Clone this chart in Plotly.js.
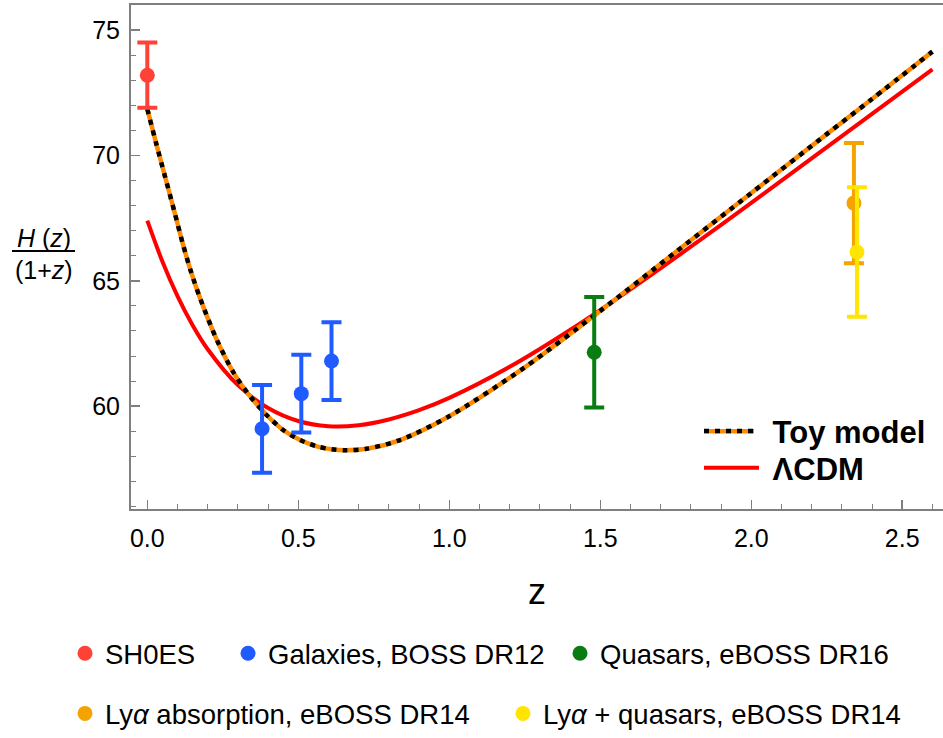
<!DOCTYPE html>
<html>
<head>
<meta charset="utf-8">
<script src="https://cdn.plot.ly/plotly-3.0.1.min.js"></script>
<style>html,body{margin:0;padding:0;background:#fff;}#chart{width:943px;height:738px;}</style>
</head>
<body>
<div id="chart"></div>
<script>
// ---- Data ----
const zToy = [0, 0.03, 0.06, 0.09, 0.117, 0.145, 0.175, 0.23, 0.285, 0.34, 0.395, 0.45, 0.506, 0.561, 0.61, 0.655, 0.726, 0.837, 1.0, 1.25, 1.5, 1.75, 2.0, 2.25, 2.4, 2.6];
const hToy = [71.85, 70.45, 69.1, 67.75, 66.5, 65.35, 64.3, 62.65, 61.35, 60.4, 59.65, 59.05, 58.65, 58.4, 58.28, 58.24, 58.3, 58.65, 59.6, 61.55, 63.8, 66.15, 68.5, 70.85, 72.25, 74.14];

const zLCDM = [0, 0.05, 0.1, 0.15, 0.2, 0.3, 0.4, 0.5, 0.6, 0.7, 0.8, 0.9, 1.0, 1.2, 1.4, 1.6, 1.8, 2.0, 2.2, 2.4, 2.6];
const hLCDM = [67.40, 65.77, 64.39, 63.23, 62.27, 60.84, 59.93, 59.41, 59.20, 59.24, 59.47, 59.84, 60.33, 61.57, 63.04, 64.66, 66.36, 68.11, 69.88, 71.66, 73.43];

const zSH0ES = [0];            const hSH0ES = [73.2];              const eSH0ES = [1.3];
const zGal   = [0.38, 0.51, 0.61]; const hGal = [59.1, 60.5, 61.8]; const eGal = [1.75, 1.55, 1.55];
const zQso   = [1.48];         const hQso = [62.15];               const eQso = [2.2];
const zLya   = [2.34];         const hLya = [68.1];                const eLya = [2.4];
const zLyq   = [2.35];         const hLyq = [66.15];               const eLyq = [2.58];

const seriesNames = ['SH0ES', 'Galaxies, BOSS DR12', 'Quasars, eBOSS DR16', 'Ly<i>α</i> absorption, eBOSS DR14', 'Ly<i>α</i> + quasars, eBOSS DR14'];
const lineNames = ['Toy model', 'ΛCDM'];

// ---- Styles ----
const FONT = 'Liberation Sans, Arial, sans-serif';
const cSH0ES = '#FF4136', cGal = '#1F5BFF', cQso = '#0A7D12', cLya = '#F4A300', cLyq = '#FFE500';
const cToy = '#FF8A00', cLCDM = '#FF0000', cAxis = '#7F7F7F';
const NB = '\u00a0';

function pts(x, y, e, color, name, legend) {
  return {
    type: 'scatter', mode: 'markers', x: x, y: y, name: name, legend: legend,
    marker: {color: color, size: 15},
    error_y: {type: 'data', array: e, visible: true, color: color, thickness: 4, width: 10},
    cliponaxis: false
  };
}

const traces = [
  {type: 'scatter', mode: 'lines', x: zLCDM, y: hLCDM, name: NB + lineNames[1], legend: 'legend7',
   line: {color: cLCDM, width: 4, shape: 'spline', smoothing: 0.8}},
  {type: 'scatter', mode: 'lines', x: zToy, y: hToy, name: 'toy-base', showlegend: false,
   line: {color: cToy, width: 4.5, shape: 'spline', smoothing: 0.8}},
  {type: 'scatter', mode: 'lines', x: zToy, y: hToy, name: NB + lineNames[0], legend: 'legend2',
   line: {color: '#000000', width: 4.5, dash: '5px,6px', shape: 'spline', smoothing: 0.8}},
  pts(zSH0ES, hSH0ES, eSH0ES, cSH0ES, seriesNames[0], 'legend'),
  pts(zGal, hGal, eGal, cGal, seriesNames[1], 'legend3'),
  pts(zQso, hQso, eQso, cQso, seriesNames[2], 'legend4'),
  pts(zLya, hLya, eLya, cLya, seriesNames[3], 'legend5'),
  pts(zLyq, hLyq, eLyq, cLyq, seriesNames[4], 'legend6')
];

// plot area: x 131..943, y 5..511
const L = 131, W = 812, T = 5, H = 506;
const px2x = p => (p - L) / W;
const py2y = p => (T + H - p) / H;

function botLegend(mx, my) {
  return {x: px2x(mx - 20), y: py2y(my), xanchor: 'left', yanchor: 'middle',
          bgcolor: 'rgba(0,0,0,0)', font: {family: FONT, size: 27.5, color: '#000'}};
}
function lineLegend(sx, my) {
  return {x: px2x(sx - 5), y: py2y(my), xanchor: 'left', yanchor: 'middle', itemwidth: 55,
          bgcolor: 'rgba(0,0,0,0)', font: {family: FONT, size: 31, color: '#000', weight: 700}};
}

const axisCommon = {
  showline: true, linecolor: cAxis, linewidth: 2, ticks: 'inside', ticklen: 9, tickwidth: 1.5,
  tickcolor: cAxis, showgrid: false, zeroline: false,
  tickfont: {family: FONT, size: 25, color: '#000'}
};

const layout = {
  width: 943, height: 738,
  margin: {l: L, r: 943 - L - W, t: T, b: 738 - T - H},
  paper_bgcolor: '#fff', plot_bgcolor: '#fff',
  font: {family: FONT},
  xaxis: Object.assign({}, axisCommon, {
    range: [-0.054, 2.635], tick0: 0, dtick: 0.5, tickformat: '.1f', mirror: true,
    ticklabelstandoff: 6,
    minor: {dtick: 0.1, ticklen: 5, tickwidth: 1, tickcolor: cAxis, ticks: 'inside'},
    title: {text: 'z', font: {family: FONT, size: 36, color: '#000'}, standoff: 28}
  }),
  yaxis: Object.assign({}, axisCommon, {
    range: [55.9, 76.0], tick0: 0, dtick: 5, ticklabelstandoff: 4,
    minor: {dtick: 1, ticklen: 5, tickwidth: 1, tickcolor: cAxis, ticks: 'inside'}
  }),
  legend: botLegend(85, 656),
  legend3: botLegend(248, 656),
  legend4: botLegend(580, 656),
  legend5: botLegend(85, 717),
  legend6: botLegend(523, 717),
  legend2: lineLegend(704, 433),
  legend7: lineLegend(704, 470),
  annotations: [
    {xref: 'paper', yref: 'paper', x: px2x(43.5), y: py2y(239), xanchor: 'center', yanchor: 'middle',
     text: '<i>H</i> (<i>z</i>)', showarrow: false, font: {family: FONT, size: 25, color: '#000'}},
    {xref: 'paper', yref: 'paper', x: px2x(43.5), y: py2y(271), xanchor: 'center', yanchor: 'middle',
     text: '(1+<i>z</i>)', showarrow: false, font: {family: FONT, size: 25, color: '#000'}}
  ],
  shapes: [
    {type: 'line', xref: 'paper', yref: 'paper', x0: px2x(12), x1: px2x(75), y0: py2y(252), y1: py2y(252),
     line: {color: '#000', width: 2}},
    // orange underlay for the Toy model legend sample (black dashes are drawn on top by the legend)
    {type: 'line', xref: 'paper', yref: 'paper', layer: 'above', x0: px2x(704), x1: px2x(754), y0: py2y(433), y1: py2y(433),
     line: {color: cToy, width: 4.5}}
  ]
};

Plotly.newPlot('chart', traces, layout, {displayModeBar: false, staticPlot: true});
</script>
</body>
</html>
